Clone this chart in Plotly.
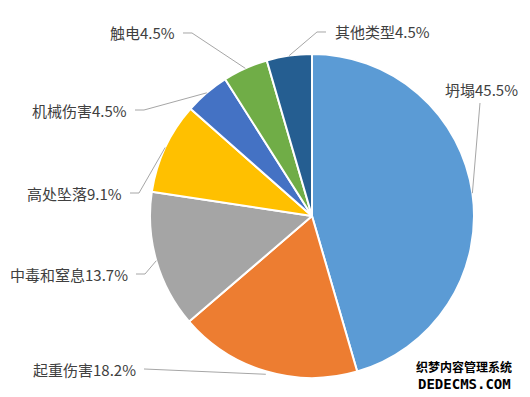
import math
import plotly.graph_objects as go

# ---- data ----
categories = ["坍塌", "起重伤害", "中毒和窒息", "高处坠落", "机械伤害", "触电", "其他类型"]
percents = [45.5, 18.2, 13.7, 9.1, 4.5, 4.5, 4.5]
colors = ["#5B9BD5", "#ED7D31", "#A5A5A5", "#FFC000", "#4472C4", "#70AD47", "#255E91"]

# ---- layout (pixels) ----
W, H = 530, 397
CX, CY, R = 312, 216, 162
# label anchor: (x, y, xanchor)
label_pos = {
    "坍塌": (443, 89, "left"),
    "起重伤害": (138, 369, "right"),
    "中毒和窒息": (130, 274, "right"),
    "高处坠落": (124, 193, "right"),
    "机械伤害": (129, 110, "right"),
    "触电": (177, 33, "right"),
    "其他类型": (333, 32, "left"),
}


def px(x):
    return x / W


def py(y):
    return 1 - y / H


fig = go.Figure()
fig.add_trace(go.Pie(
    labels=categories,
    values=percents,
    sort=False,
    direction="clockwise",
    rotation=0,
    marker=dict(colors=colors, line=dict(color="white", width=2)),
    textinfo="none",
    hoverinfo="label+percent",
    showlegend=False,
    domain=dict(x=[px(CX - R), px(CX + R)], y=[py(CY + R), py(CY - R)]),
))

annotations = []
shapes = []
total = sum(percents)
cum = 0.0
for cat, v in zip(categories, percents):
    mid = (cum + v / 2) / total
    cum += v
    ang = mid * 2 * math.pi
    axp = CX + R * math.sin(ang)
    ayp = CY - R * math.cos(ang)
    lx, ly, anchor = label_pos[cat]
    annotations.append(dict(
        x=px(lx), y=py(ly), xref="paper", yref="paper",
        text=f"{cat}{v:.1f}%", showarrow=False,
        xanchor=anchor, yanchor="middle",
        font=dict(family="Noto Sans CJK SC, Microsoft YaHei", size=15, color="#404040"),
    ))
    if cat == "坍塌":
        pts = [(480, 103), (axp, ayp)]
    elif cat == "起重伤害":
        pts = [(lx + 6, ly), (axp, ayp + 3)]
    elif anchor == "right":
        pts = [(lx + 6, ly), (lx + 15, ly), (axp, ayp)]
    else:
        pts = [(lx - 7, ly), (lx - 16, ly), (axp, ayp)]
    path = "M " + " L ".join(f"{px(x):.5f},{py(y):.5f}" for x, y in pts)
    shapes.append(dict(type="path", path=path, xref="paper", yref="paper",
                       line=dict(color="#A6A6A6", width=1)))

# watermark
annotations.append(dict(x=px(464), y=py(366), xref="paper", yref="paper",
                        text="<b>织梦内容管理系统</b>", showarrow=False,
                        xanchor="center", yanchor="middle",
                        font=dict(family="Noto Sans CJK SC", size=12, color="black",
                                  shadow="1px 1px 0px white")))
annotations.append(dict(x=px(464), y=py(384), xref="paper", yref="paper",
                        text="<b>DEDECMS.COM</b>", showarrow=False,
                        xanchor="center", yanchor="middle",
                        font=dict(family="DejaVu Sans Mono", size=14, color="black")))

fig.update_layout(
    width=W, height=H,
    margin=dict(l=0, r=0, t=0, b=0),
    paper_bgcolor="white", plot_bgcolor="white",
    annotations=annotations, shapes=shapes,
)
fig.write_html("out.html")
